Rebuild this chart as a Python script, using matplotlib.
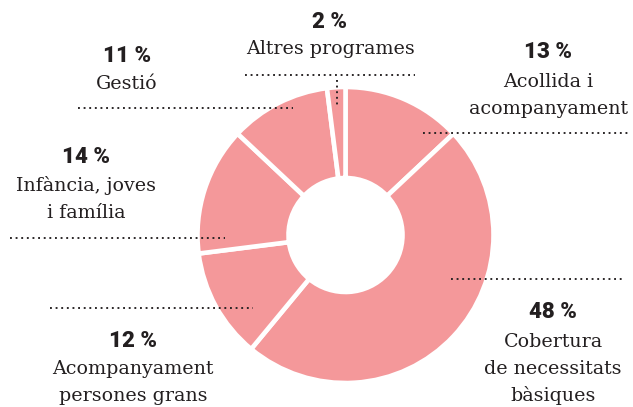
import matplotlib.pyplot as plt

# -------------------------------
# 1. Data (clockwise from 12 o'clock)
# -------------------------------
labels = ["Acollida i\nacompanyament",
          "Cobertura\nde necessitats\nbàsiques",
          "Acompanyament\npersones grans",
          "Infància, joves\ni família",
          "Gestió",
          "Altres programes"]
values = [13, 48, 12, 14, 11, 2]

PINK = "#F4989A"
INK = "#231F20"

# -------------------------------
# 2. Layout (pixel coords, y from top)
# -------------------------------
W, H = 633, 407
CX, CY = 345.5, 235
R_OUT, R_IN = 148, 57

# x centre, baseline of percent, baseline of first text line
label_pos = [(548, 58, 87),
             (553, 318, 347),
             (133, 347, 374),
             (86, 163, 191),
             (127, 62, 89),
             (330, 28, 54)]
LINE_STEP = 27

# dotted leader lines: list of (xs, ys)
leaders = [([423, 630], [133, 133]),
           ([451, 625], [279, 279]),
           ([50, 253], [308, 308]),
           ([10, 225], [238, 238]),
           ([78, 293], [108, 108]),
           ([245, 415], [75, 75]),
           ([337, 337], [80, 107])]

fig = plt.figure(figsize=(W / 100, H / 100), dpi=100)
ax = fig.add_axes([0, 0, 1, 1])

# y axis points down, so start at 270 and go "counterclock" = clockwise on screen
ax.pie(values, radius=R_OUT, center=(CX, CY), startangle=270, counterclock=True,
       colors=[PINK] * len(values),
       wedgeprops=dict(width=R_OUT - R_IN, edgecolor="white", linewidth=3.3))

ax.set_xlim(0, W)
ax.set_ylim(H, 0)
ax.set_aspect("auto")
ax.axis("off")

for xs, ys in leaders:
    ax.plot(xs, ys, color=INK, linewidth=1.35, linestyle=(0, (1, 2.0)))

for val, lab, (x, yp, yt) in zip(values, labels, label_pos):
    ax.text(x, yp, f"{val} %", ha="center", va="baseline", fontsize=16,
            fontfamily="Roboto", fontweight="black", color=INK)
    for i, line in enumerate(lab.split("\n")):
        ax.text(x, yt + i * LINE_STEP, line, ha="center", va="baseline",
                fontsize=13.7, fontfamily="DejaVu Serif", color=INK)

fig.savefig("out.png", dpi=100)
